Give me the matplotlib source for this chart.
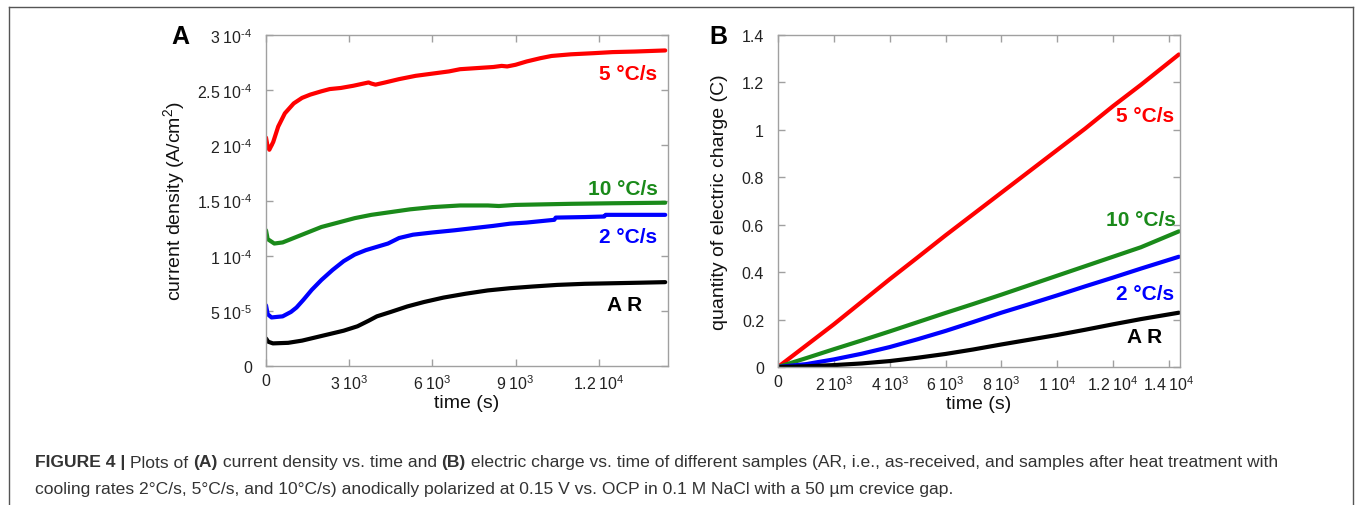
import matplotlib
matplotlib.use("Agg")
import matplotlib.pyplot as plt
from matplotlib.lines import Line2D

plt.rcParams['font.family'] = ['Liberation Sans', 'DejaVu Sans']
plt.rcParams['mathtext.fontset'] = 'custom'
plt.rcParams['mathtext.rm'] = 'Liberation Sans'
plt.rcParams['mathtext.it'] = 'Liberation Sans:italic'
plt.rcParams['mathtext.bf'] = 'Liberation Sans:bold'
plt.rcParams['mathtext.default'] = 'regular'

# ---------------- data: panel A (current density vs time, A/cm^2) ----------------
red_t = [0, 50, 120, 260, 440, 680, 1000, 1300, 1600, 2000, 2300, 2700, 3150, 3700, 3800, 3950, 4300, 4800,
         5400, 6000, 6600, 7000, 7600, 8200, 8500, 8700, 9000, 9400, 9900, 10300, 11000, 11800, 12500, 13300, 14400]
red_j = [2.07, 2.00, 1.96, 2.03, 2.17, 2.29, 2.38, 2.43, 2.46, 2.49, 2.51, 2.52, 2.54, 2.57, 2.56, 2.55, 2.57, 2.60,
         2.63, 2.65, 2.67, 2.69, 2.70, 2.71, 2.72, 2.715, 2.73, 2.76, 2.79, 2.81, 2.825, 2.835, 2.845, 2.85, 2.86]

green_t = [0, 60, 300, 600, 1000, 1500, 2000, 2600, 3200, 3800, 4500, 5200, 6000, 7000, 8000, 8400, 9000,
           10000, 11000, 12500, 14400]
green_j = [1.23, 1.15, 1.11, 1.12, 1.16, 1.21, 1.26, 1.30, 1.34, 1.37, 1.395, 1.42, 1.44, 1.455, 1.455, 1.45, 1.46,
           1.465, 1.47, 1.475, 1.48]

blue_t = [0, 60, 200, 600, 900, 1100, 1350, 1650, 2000, 2400, 2800, 3200, 3600, 4000, 4400, 4800, 5300, 6000,
          6800, 7500, 8200, 8800, 9400, 10200, 10400, 10450, 11500, 12200, 12250, 14400]
blue_j = [0.55, 0.47, 0.44, 0.45, 0.49, 0.53, 0.60, 0.69, 0.78, 0.87, 0.95, 1.01, 1.05, 1.08, 1.11, 1.16, 1.19, 1.21,
          1.23, 1.25, 1.27, 1.29, 1.30, 1.32, 1.325, 1.345, 1.35, 1.355, 1.37, 1.37]

black_t = [0, 80, 250, 800, 1300, 1800, 2300, 2800, 3300, 3700, 4000, 4500, 5100, 5700, 6400, 7200, 8000, 8800,
           9600, 10500, 11500, 12500, 13500, 14400]
black_j = [0.25, 0.22, 0.205, 0.21, 0.23, 0.26, 0.29, 0.32, 0.36, 0.41, 0.45, 0.49, 0.54, 0.58, 0.62, 0.655, 0.685,
           0.705, 0.72, 0.735, 0.745, 0.75, 0.755, 0.76]
J_UNIT = 1e-4  # values above are in units of 1e-4 A/cm^2

# ---------------- data: panel B (electric charge vs time, C) ----------------
q_t = [0, 1000, 2000, 3000, 4000, 5000, 6000, 7000, 8000, 9000, 10000, 11000, 12000, 13000, 14360]
red_q = [0, 0.09, 0.18, 0.275, 0.37, 0.462, 0.555, 0.645, 0.735, 0.825, 0.915, 1.005, 1.10, 1.19, 1.318]
green_q = [0, 0.037, 0.075, 0.112, 0.15, 0.189, 0.228, 0.266, 0.305, 0.345, 0.385, 0.425, 0.465, 0.505, 0.572]
blue_q = [0, 0.012, 0.032, 0.056, 0.084, 0.117, 0.152, 0.19, 0.229, 0.265, 0.302, 0.34, 0.377, 0.415, 0.465]
black_q = [0, 0.003, 0.008, 0.015, 0.025, 0.039, 0.055, 0.074, 0.095, 0.115, 0.135, 0.157, 0.18, 0.202, 0.229]

series_names = ["5 °C/s", "10 °C/s", "2 °C/s", "A R"]
series_colors = ["#ff0000", "#1a8a1a", "#0000ff", "#000000"]

# ticks
a_xticks = [0, 3000, 6000, 9000, 12000]
a_xticklabels = ["0", r"$3\;10^{3}$", r"$6\;10^{3}$", r"$9\;10^{3}$", r"$1.2\;10^{4}$"]
a_yticks = [0, 0.5e-4, 1e-4, 1.5e-4, 2e-4, 2.5e-4, 3e-4]
a_yticklabels = ["0", r"$5\;10^{\text{-}5}$", r"$1\;10^{\text{-}4}$", r"$1.5\;10^{\text{-}4}$",
                 r"$2\;10^{\text{-}4}$", r"$2.5\;10^{\text{-}4}$", r"$3\;10^{\text{-}4}$"]
b_xticks = [0, 2000, 4000, 6000, 8000, 10000, 12000, 14000]
b_xticklabels = ["0", r"$2\;10^{3}$", r"$4\;10^{3}$", r"$6\;10^{3}$", r"$8\;10^{3}$", r"$1\;10^{4}$",
                 r"$1.2\;10^{4}$", r"$1.4\;10^{4}$"]
b_yticks = [0, 0.2, 0.4, 0.6, 0.8, 1.0, 1.2, 1.4]
b_yticklabels = ["0", "0.2", "0.4", "0.6", "0.8", "1", "1.2", "1.4"]

W, H = 1355, 506
fig = plt.figure(figsize=(W / 100, H / 100), dpi=100)
fig.patch.set_facecolor("white")

def px_axes(l, t, r, b):
    return fig.add_axes([l / W, 1 - b / H, (r - l) / W, (b - t) / H])

axA = px_axes(266, 36, 668, 367)
axB = px_axes(778, 36, 1180, 368)

frame_col = "#a0a0a0"
for ax in (axA, axB):
    for s in ax.spines.values():
        s.set_color(frame_col)
        s.set_linewidth(1.0)
    ax.tick_params(direction="in", top=True, right=True, length=5, width=1.0,
                   color=frame_col, labelcolor="#222222")
    ax.tick_params(axis="x", labelsize=11.5, pad=5)
    ax.tick_params(axis="y", labelsize=11.5, pad=10)

# panel A
for t, j, c in zip([red_t, green_t, blue_t, black_t], [red_j, green_j, blue_j, black_j], series_colors):
    axA.plot(t, [v * J_UNIT for v in j], color=c, lw=3.0, solid_capstyle="round", solid_joinstyle="round")
axA.set_xlim(0, 14500)
axA.set_ylim(0, 3e-4)
axA.set_xticks(a_xticks)
axA.set_xticklabels(a_xticklabels)
axA.set_yticks(a_yticks)
axA.set_yticklabels(a_yticklabels)
axA.set_xlabel("time (s)", fontsize=14, color="#111111", labelpad=2)
axA.set_ylabel("current density (A/cm$^{2}$)", fontsize=14, color="#111111")
axA.yaxis.set_label_coords((187 - 266) / 402, 0.5)

labA_pos = [(14100, 2.65e-4), (14150, 1.61e-4), (14100, 1.17e-4), (13550, 0.553e-4)]
for (x, y), name, c in zip(labA_pos, series_names, series_colors):
    axA.text(x, y, name, color=c, fontsize=15, fontweight="bold", ha="right", va="center")

# panel B
for q, c in zip([red_q, green_q, blue_q, black_q], series_colors):
    axB.plot(q_t, q, color=c, lw=3.0, solid_capstyle="round", solid_joinstyle="round")
axB.set_xlim(0, 14400)
axB.set_ylim(0, 1.4)
axB.set_xticks(b_xticks)
axB.set_xticklabels(b_xticklabels)
axB.set_yticks(b_yticks)
axB.set_yticklabels(b_yticklabels)
axB.set_xlabel("time (s)", fontsize=14, color="#111111", labelpad=2)
axB.set_ylabel("quantity of electric charge (C)", fontsize=14, color="#111111")
axB.yaxis.set_label_coords((728 - 778) / 402, 0.5)

labB_pos = [(14180, 1.059), (14250, 0.62), (14180, 0.308), (13750, 0.127)]
for (x, y), name, c in zip(labB_pos, series_names, series_colors):
    axB.text(x, y, name, color=c, fontsize=15, fontweight="bold", ha="right", va="center")

# panel letters
fig.text(180 / W, 1 - 37 / H, "A", fontsize=18, fontweight="bold", ha="center", va="center")
fig.text(718 / W, 1 - 37 / H, "B", fontsize=18, fontweight="bold", ha="center", va="center")

# border lines (top, left, right)
bc = "#555555"
fig.add_artist(Line2D([9 / W, 1353 / W], [1 - 8 / H, 1 - 8 / H], color=bc, lw=1.0))
fig.add_artist(Line2D([9 / W, 9 / W], [0, 1 - 8 / H], color=bc, lw=1.0))
fig.add_artist(Line2D([1353 / W, 1353 / W], [0, 1 - 8 / H], color=bc, lw=1.0))

# caption with mixed weights
fig.canvas.draw()
renderer = fig.canvas.get_renderer()
cap_lines = [
    [("FIGURE 4 | ", "bold"), ("Plots of ", "normal"), ("(A)", "bold"), (" current density vs. time and ", "normal"),
     ("(B)", "bold"), (" electric charge vs. time of different samples (AR, i.e., as-received, and samples after heat treatment with", "normal")],
    [("cooling rates 2°C/s, 5°C/s, and 10°C/s) anodically polarized at 0.15 V vs. OCP in 0.1 M NaCl with a 50 µm crevice gap.", "normal")],
]
cap_y = [463, 490]
for runs, yy in zip(cap_lines, cap_y):
    x = 35
    for txt, wt in runs:
        t = fig.text(x / W, 1 - yy / H, txt, fontsize=12.6, fontweight=wt, color="#333333",
                     ha="left", va="center")
        bb = t.get_window_extent(renderer=renderer)
        x += bb.width

fig.savefig("out.png", dpi=100, facecolor="white")
